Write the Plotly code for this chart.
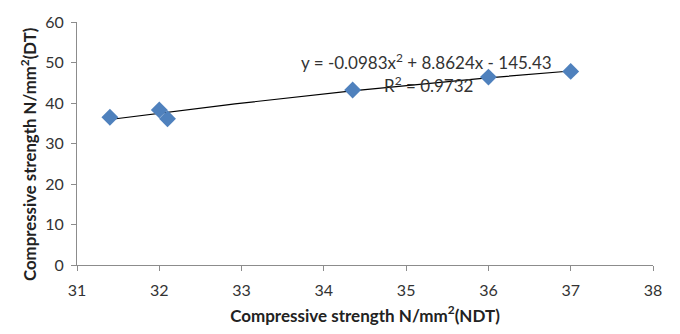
import numpy as np
import plotly.graph_objects as go

ndt = [31.4, 32.0, 32.1, 34.35, 36.0, 37.0]
dt = [36.5, 38.3, 36.1, 43.2, 46.4, 47.8]
coef = [-0.0983, 8.8624, -145.43]
x_ticks = [31, 32, 33, 34, 35, 36, 37, 38]
y_ticks = [0, 10, 20, 30, 40, 50, 60]

xf = np.linspace(min(ndt), max(ndt), 60)
yf = np.polyval(coef, xf)

font = "Lato, Open Sans, sans-serif"
fig = go.Figure()
fig.add_trace(go.Scatter(x=xf, y=yf, mode="lines", line=dict(color="black", width=1.2), hoverinfo="skip"))
fig.add_trace(go.Scatter(x=ndt, y=dt, mode="markers",
                         marker=dict(symbol="diamond", size=13, color="#4F81BD")))

fig.add_annotation(x=35.25, y=50.3, text="y = -0.0983x<sup>2</sup> + 8.8624x - 145.43",
                   showarrow=False, font=dict(family=font, size=17, color="#333"))
fig.add_annotation(x=35.27, y=44.6, text="R<sup>2</sup> = 0.9732",
                   showarrow=False, font=dict(family=font, size=17, color="#333"))
fig.add_annotation(xref="paper", yref="paper", x=-0.108, y=0.454, textangle=-90,
                   text="<b>Compressive strength N/mm<sup>2</sup>(DT)</b>",
                   showarrow=False, font=dict(family=font, size=16.8, color="#222"))

axis_common = dict(showgrid=False, zeroline=False, showline=True, linecolor="#8c8c8c",
                   linewidth=1, ticks="outside", ticklen=5, tickcolor="#8c8c8c",
                   tickfont=dict(family=font, size=16, color="#333"))
fig.update_xaxes(range=[31, 38], tickvals=x_ticks, ticklabelstandoff=6, **axis_common,
                 title=dict(text="<b>Compressive strength N/mm<sup>2</sup>(NDT)</b>",
                            font=dict(family=font, size=17, color="#222"), standoff=11))
fig.update_yaxes(range=[0, 60], tickvals=y_ticks, ticklabelstandoff=4, **axis_common)
fig.update_layout(width=680, height=334, margin=dict(l=77, r=27, t=16, b=69),
                  paper_bgcolor="white", plot_bgcolor="white", showlegend=False)
fig.write_html("out.html")
